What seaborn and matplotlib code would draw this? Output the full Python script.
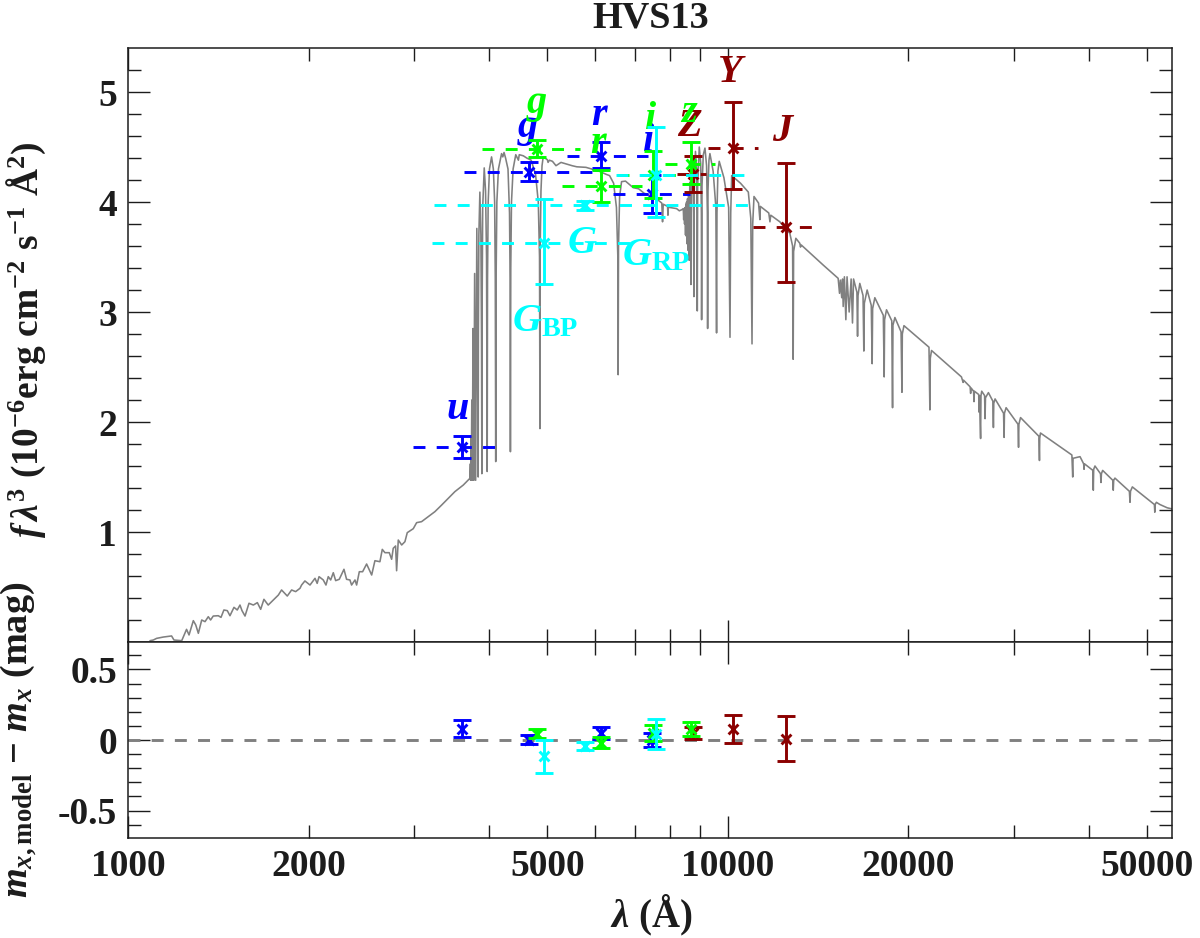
import numpy as np
import pandas as pd
import seaborn as sns
import matplotlib
matplotlib.use("Agg")
import matplotlib.pyplot as plt

# model spectrum
uv_wave = [1088, 1102, 1116, 1145, 1182, 1193, 1229, 1244, 1252, 1264, 1285, 1297, 1310, 1327, 1344, 1361, 1373, 1387,
           1414, 1429, 1445, 1464, 1479, 1502, 1521, 1537, 1549, 1567, 1591, 1618, 1643, 1664, 1685, 1713, 1758, 1781,
           1803, 1843, 1874, 1903, 1935, 1947, 1972, 2011, 2050, 2067, 2082, 2116, 2138, 2157, 2177, 2199, 2219, 2250,
           2291, 2314, 2344, 2359, 2390, 2405, 2430, 2461, 2499, 2548, 2580, 2630, 2654, 2681, 2726, 2751, 2768, 2793,
           2804, 2822, 2859, 2895, 2921, 2989, 3028, 3086, 3166, 3248, 3333, 3419, 3507, 3622, 3715]
uv_flux = [.012, .018, .033, .045, .055, .018, .012, .079, .115, .064, .194, .155, .079, .2, .185, .23, .2, .236,
           .239, .224, .291, .285, .239, .315, .291, .336, .285, .236, .352, .336, .358, .297, .388, .336, .397, .427,
           .473, .418, .473, .458, .488, .518, .555, .518, .579, .533, .594, .564, .518, .594, .564, .63, .558, .57,
           .661, .57, .564, .518, .564, .518, .639, .639, .709, .609, .739, .73, .842, .812, .812, .752, .852, .873,
           .648, .927, .882, .912, .994, 1.03, 1.085, 1.094, 1.139, 1.185, 1.245, 1.306, 1.367, 1.427, 1.488]

balmer_wave = [3722, 3726, 3731, 3735, 3742, 3749, 3760, 3771, 3783, 3798, 3815, 3835, 3838, 3845, 3860, 3875, 3884, 3889,
               3893, 3902, 3925, 3945, 3960, 3970, 3975, 3985, 4005, 4037, 4065, 4085, 4095, 4102, 4108, 4120, 4145, 4180,
               4195, 4215, 4235, 4260, 4300, 4325, 4335, 4340, 4346, 4358, 4385, 4430, 4475, 4490, 4560, 4620, 4700, 4780,
               4830, 4853, 4861, 4866, 4880, 4900, 4922, 5000, 5015, 5040, 5100, 5170, 5270, 5386, 5500, 5600, 5800, 5928,
               6000, 6100, 6278, 6350, 6450, 6520, 6555, 6563, 6572, 6600, 6649, 6750, 6954, 7100, 7250, 7413, 7600, 7760,
               7782, 7803, 7933, 7945, 7955, 8005, 8213]
balmer_flux = [1.62, 1.47, 1.85, 1.47, 2.2, 1.47, 2.85, 1.47, 3.35, 1.47, 3.76, 1.5, 2.8, 3.7, 4.09, 3.7, 2.8, 1.53,
               3.0, 3.95, 4.31, 4.1, 3.5, 1.55, 3.3, 4.0, 4.3, 4.41, 4.3, 4.0, 3.3, 1.64, 3.3, 4.0, 4.3, 4.40,
               4.44, 4.41, 4.45, 4.40, 4.3, 3.9, 3.3, 1.73, 3.4, 4.0, 4.3, 4.43, 4.38, 4.43, 4.42, 4.40, 4.38, 4.25,
               4.0, 3.5, 1.94, 3.6, 4.1, 4.33, 4.41, 4.385, 4.36, 4.38, 4.37, 4.33, 4.36, 4.345, 4.33, 4.32, 4.315, 4.30,
               4.28, 4.28, 4.25, 4.24, 4.17, 3.95, 3.5, 2.43, 3.6, 4.05, 4.185, 4.19, 4.13, 4.12, 4.08, 4.06, 4.03, 3.99,
               3.82, 3.98, 3.96, 3.88, 3.95, 3.95, 3.94]

paschen_wave = [8300, 8380, 8426, 8440, 8455, 8469, 8485, 8500, 8512, 8525, 8534, 8550, 8565, 8585, 8600, 8622, 8640, 8660,
                8678, 8690, 8710, 8745, 8765, 8778, 8790, 8830, 8870, 8885, 8892, 8905, 8960, 9010, 9033, 9041, 9055, 9100,
                9158, 9215, 9243, 9252, 9265, 9300, 9334, 9450, 9550, 9575, 9590, 9625, 9673, 9850, 10030, 10082, 10110,
                10147, 10500, 10817, 10920, 10971, 11000, 11055, 11250, 11307, 11330, 11700, 11753, 11790, 12207, 12684,
                12820, 12849, 12870, 12981, 13182, 13215, 13250, 14417, 15270]
paschen_flux = [3.92, 3.93, 3.94, 3.84, 3.92, 3.80, 3.95, 3.70, 3.98, 3.69, 4.0, 3.62, 4.03, 3.56, 4.06, 3.47, 4.18, 3.9,
                3.25, 4.1, 4.35, 4.2, 3.9, 3.14, 4.1, 4.46, 4.3, 3.9, 3.01, 4.15, 4.50, 4.35, 3.9, 2.93, 4.15, 4.43,
                4.49, 4.33, 3.9, 2.85, 4.1, 4.38, 4.44, 4.28, 3.95, 2.81, 3.9, 4.28, 4.37, 4.22, 3.95, 2.77, 3.9,
                4.24, 4.17, 4.09, 3.85, 2.71, 3.8, 4.05, 3.99, 3.84, 3.96, 3.90, 3.82, 3.88, 3.82, 3.715,
                3.6, 2.57, 3.55, 3.67, 3.624, 3.59, 3.61, 3.427, 3.306]

ir_wave = [15350, 15400, 15480, 15530, 15568, 15640, 15728, 15800, 15929, 16050, 16134, 16200, 16410, 16450, 16480, 16593,
           16800, 16851, 16885, 17067, 17340, 17399, 17430, 17578, 18160, 18221, 18250, 18384, 18760, 18815, 18845, 18986,
           19440, 19507, 19535, 19657, 21640, 21714, 21750, 21853, 24511, 24669, 24710, 25340, 25391, 25430, 25680, 25723,
           25760, 26190, 26225, 26260, 26381, 26420, 26495, 26790, 26837, 26880, 27184, 27650, 27711, 27750, 27889, 28810,
           28873, 28910, 29095, 30450, 30517, 30560, 30753, 33000, 33069, 33100, 33196, 37450, 37571, 37620, 38641, 39180,
           39241, 39300, 40600, 40661, 40720, 40922, 41800, 41877, 41950, 42147, 43820, 43897, 43970, 44181, 46700, 46813,
           46900, 47234, 51400, 51486, 51560, 51800, 52500, 53000, 54000, 55000]
ir_flux = [3.17, 3.29, 3.13, 3.30, 3.05, 3.32, 2.93, 3.32, 3.0, 3.30, 2.90, 3.30, 3.18, 2.78, 3.15, 3.26,
           3.15, 2.645, 3.08, 3.2, 3.06, 2.53, 3.03, 3.13, 2.97, 2.41, 2.93, 3.02, 2.92, 2.13, 2.88, 2.95,
           2.82, 2.27, 2.8, 2.876, 2.68, 2.11, 2.58, 2.65, 2.41, 2.36, 2.38, 2.32, 2.26, 2.31, 2.28, 2.185,
           2.28, 2.25, 2.09, 2.24, 1.85, 2.24, 2.28, 2.24, 2.03, 2.22, 2.267, 2.19, 1.95, 2.17, 2.21, 2.08,
           1.86, 2.08, 2.13, 1.98, 1.77, 1.98, 2.04, 1.87, 1.65, 1.85, 1.90, 1.70, 1.50, 1.67, 1.685, 1.62,
           1.57, 1.62, 1.56, 1.38, 1.57, 1.60, 1.53, 1.45, 1.53, 1.56, 1.47, 1.38, 1.47, 1.49, 1.37, 1.27,
           1.37, 1.41, 1.25, 1.18, 1.25, 1.27, 1.25, 1.24, 1.22, 1.21]

# photometry, one row per band, drawn in this order
band_survey = ["sdss"] * 4 + ["ukidss"] * 3 + ["panstarrs"] * 4 + ["gaia"] * 3
band_wave = [3598, 4665, 6134, 7478, 8755, 10180, 12477, 4810, 6140, 7510, 8675, 4941, 5775, 7585]
band_wave_lo = [2982, 3631, 5391, 6440, 8212, 9273, 11022, 3886, 5282, 6523, 7852, 3207, 3236, 6500]
band_wave_hi = [4089, 6041, 7366, 8643, 9190, 11234, 13786, 5667, 7179, 8317, 9514, 6909, 10880, 10740]
band_flux = [1.77, 4.276, 4.418, 4.073, 4.255, 4.494, 3.77, 4.485, 4.145, 4.248, 4.345, 3.624, 3.97, 4.248]
band_err_up = [.106, .091, .13, .17, .167, .412, .582, .079, .145, .215, .197, .403, .04, .43]
band_err_dn = [.10, .085, .112, .17, .161, .379, .50, .079, .142, .215, .182, .373, .04, .382]
band_resid = [.08, .002, .05, 0.0, .05, .078, .01, .045, -.02, .05, .075, -.115, -.042, .043]
band_resid_err = [.06, .033, .04, .05, .041, .1, .157, .033, .04, .058, .05, .116, .03, .104]

label_text = ["$u$", "$g$", "$r$", "$i$", "$Z$", "$Y$", "$J$", "$g$", "$r$", "$i$", "$z$",
              r"$G_{\mathrm{BP}}$", "$G$", r"$G_{\mathrm{RP}}$"]
label_wave = [3548, 4647, 6119, 7365, 8643, 10141, 12365, 4798, 6103, 7432, 8620, 4954, 5725, 7585]
label_flux = [2.027, 4.588, 4.70, 4.467, 4.60, 5.088, 4.558, 4.806, 4.442, 4.66, 4.73, 2.821, 3.533, 3.427]

survey_colors = {"sdss": "#0000ff", "ukidss": "#8b0000", "panstarrs": "#00ff00", "gaia": "#00ffff"}

x_major = [1000, 10000]
x_minor = [2000, 3000, 4000, 5000, 6000, 7000, 8000, 9000, 20000, 30000, 40000, 50000]
x_minor_labels = ["2000", "", "", "5000", "", "", "", "", "20000", "", "", "50000"]

spec = pd.DataFrame({"wave": uv_wave + balmer_wave + paschen_wave + ir_wave,
                     "flux": uv_flux + balmer_flux + paschen_flux + ir_flux})
bands = pd.DataFrame({"survey": band_survey, "wave": band_wave, "lo": band_wave_lo, "hi": band_wave_hi,
                      "flux": band_flux, "up": band_err_up, "dn": band_err_dn,
                      "resid": band_resid, "resid_err": band_resid_err,
                      "label": label_text, "label_wave": label_wave, "label_flux": label_flux})

sns.set_theme(style="ticks")
plt.rcParams["font.family"] = ["Liberation Serif"]
plt.rcParams["font.weight"] = "bold"
plt.rcParams["mathtext.fontset"] = "custom"
plt.rcParams["mathtext.rm"] = "Liberation Serif:bold"
plt.rcParams["mathtext.it"] = "Liberation Serif:italic:bold"
plt.rcParams["mathtext.bf"] = "Liberation Serif:bold"
plt.rcParams["axes.linewidth"] = 1.1

INK = "#1c1c1c"
DASH = (0, (4.1, 3.85))

fig, (ax, ax2) = plt.subplots(2, 1, figsize=(12, 9.38), dpi=100, sharex=True, height_ratios=[594, 196])
fig.subplots_adjust(left=128 / 1200, right=1172 / 1200, top=1 - 48 / 938, bottom=1 - 838 / 938, hspace=0)

sns.lineplot(data=spec, x="wave", y="flux", ax=ax, color="#808080", lw=1.15, estimator=None, sort=False, zorder=2)
sns.lineplot(x=[1000, 55000], y=[0, 0], ax=ax2, color="#808080", lw=2.1, ls=DASH, estimator=None, zorder=1)

for i, row in bands.iterrows():
    color = survey_colors[row["survey"]]
    z = 3 + i * 0.1
    ax.plot([row["lo"], row["hi"]], [row["flux"], row["flux"]], color=color, lw=2.1, ls=DASH, zorder=z)
    ax.errorbar(row["wave"], row["flux"], yerr=[[row["dn"]], [row["up"]]], color=color, elinewidth=2.1, capsize=6.5,
                capthick=2.1, fmt="none", zorder=z)
    sns.scatterplot(x=[row["wave"]], y=[row["flux"]], ax=ax, color=color, marker="x", s=50, linewidth=2.1,
                    legend=False, zorder=z)
    ax.text(row["label_wave"], row["label_flux"], row["label"], color=color, fontsize=29, ha="center", va="baseline",
            zorder=z)
    ax2.errorbar(row["wave"], row["resid"], yerr=row["resid_err"], color=color, elinewidth=2.1, capsize=6.5,
                 capthick=2.1, fmt="none", zorder=z)
    sns.scatterplot(x=[row["wave"]], y=[row["resid"]], ax=ax2, color=color, marker="x", s=50, linewidth=2.1,
                    legend=False, zorder=z)

ax.set_xscale("log")
ax.set_xlim(1000, 55000)
ax.set_ylim(0, 5.4)
ax2.set_ylim(-0.695, 0.695)

ax.set_yticks([1, 2, 3, 4, 5], ["1", "2", "3", "4", "5"])
ax.set_yticks(np.arange(0.2, 5.3, 0.2), minor=True)
ax2.set_yticks([-0.5, 0, 0.5], ["-0.5", "0", "0.5"])
ax2.set_yticks(np.arange(-0.6, 0.65, 0.1), minor=True)
ax2.set_xticks(x_major, ["1000", "10000"])
ax2.set_xticks(x_minor, x_minor_labels, minor=True)

for a in (ax, ax2):
    a.tick_params(which="both", direction="in", top=True, right=True, bottom=True, left=True, colors=INK, width=1.0)
    a.tick_params(which="major", length=15.8, labelsize=27, pad=8)
    a.tick_params(which="minor", length=9.4, labelsize=27, pad=8)
    a.set_xlabel("")
    a.set_ylabel("")
    for s in a.spines.values():
        s.set_color(INK)
ax.tick_params(axis="x", which="both", labelbottom=False)

fig.text(651 / 1200, 1 - 28 / 938, "HVS13", fontsize=27.5, color=INK, ha="center", va="baseline")
fig.text(651 / 1200, 1 - 927 / 938, r"$\lambda\,\,(\mathrm{Å})$", fontsize=28, color=INK, ha="center", va="baseline")
fig.text(26 / 1200, 1 - 340 / 938, r"$f\,\lambda^3\ (10^{-6}\mathrm{erg\ cm^{-2}\ s^{-1}\ Å^2})$", fontsize=27,
         color=INK, rotation=90, ha="center", va="center")
fig.text(19 / 1200, 1 - 740 / 938, r"$m_{x,\mathrm{model}}\ \mathrm{-}\ m_x\ (\mathrm{mag})$", fontsize=27.5,
         color=INK, rotation=90, ha="center", va="center")

fig.savefig("out.png", dpi=100)
